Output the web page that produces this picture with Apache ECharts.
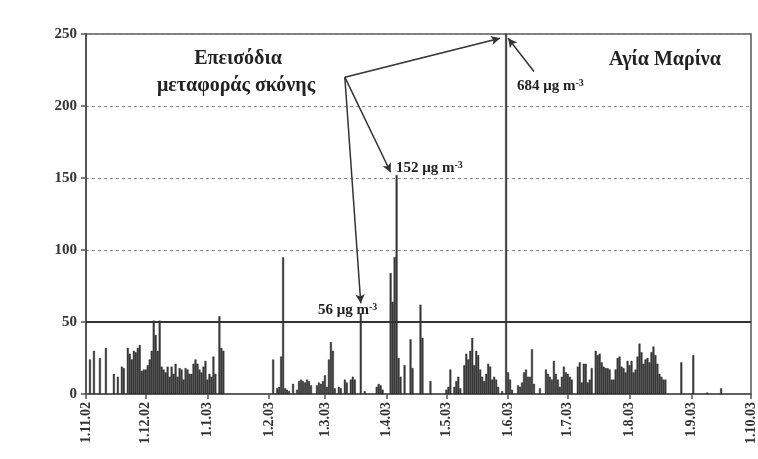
<!DOCTYPE html>
<html>
<head>
<meta charset="utf-8">
<script src="https://cdn.jsdelivr.net/npm/echarts@6/dist/echarts.min.js"></script>
<style>
  html, body { margin: 0; padding: 0; background: #fff; }
  #chart { width: 758px; height: 459px; }
</style>
</head>
<body>
<div id="chart"></div>
<script>
// Daily concentrations (μg m-3), one array per month; null = no measurement.
const nov02 = [null,null,24,null,30,null,null,25,null,null,32,null,null,null,14,null,12,null,19,18,null,32,28,24,30,29,32,34,16,17];
const dec02 = [17,20,24,30,51,41,30,51,19,17,15,19,12,19,14,21,12,18,17,10,18,17,14,14,21,24,21,17,15,19,23];
const jan03 = [10,14,12,26,14,null,54,32,30,null,null,null,null,null,null,null,null,null,null,null,null,null,null,null,null,null,null,null,null,null,null];
const feb03 = [null,null,24,null,4,5,26,95,4,3,2,null,7,null,3,9,10,9,8,10,9,6,null,null,6,8,7,9];
const mar03 = [13,5,24,36,30,4,null,5,4,null,10,8,null,10,12,10,null,null,56,null,2,null,null,null,null,null,5,7,6,3,null];
const apr03 = [null,null,84,64,95,152,25,12,null,20,null,null,38,18,null,null,null,62,39,null,null,null,9,null,null,null,null,null,null,null];
const may03 = [3,5,17,null,5,9,12,4,null,20,28,24,30,39,20,30,27,17,12,9,14,21,19,10,12,10,5,null,2,null,684];
const jun03 = [15,10,3,null,null,6,5,8,15,17,12,12,31,7,null,null,4,null,null,17,14,12,10,23,14,10,5,12,19,15];
const jul03 = [14,12,10,null,null,19,22,8,21,21,8,10,18,null,30,27,28,22,19,18,18,17,10,10,17,25,26,19,18,15,23];
const aug03 = [20,23,15,17,26,35,29,21,24,25,22,29,33,27,21,14,12,10,10,null,null,null,null,null,null,null,22,null,null,null,null];
const sep03 = [null,27,null,null,null,null,null,null,1,null,null,null,null,null,null,4,null,null,null,null,null,null,null,null,null,null,null,null,null,null];

const monthKeys = [
  ['11', '02', nov02], ['12', '02', dec02], ['1', '03', jan03], ['2', '03', feb03],
  ['3', '03', mar03], ['4', '03', apr03], ['5', '03', may03], ['6', '03', jun03],
  ['7', '03', jul03], ['8', '03', aug03], ['9', '03', sep03]
];

const tickLabels = ['1.11.02','1.12.02','1.1.03','1.2.03','1.3.03','1.4.03','1.5.03','1.6.03','1.7.03','1.8.03','1.9.03','1.10.03'];

// Daily limit value
const limitValue = 50;

// Category axis: one entry per day, labelled d.m.yy
const days = [];
const values = [];
monthKeys.forEach(([m, y, arr]) => {
  arr.forEach((v, i) => {
    days.push((i + 1) + '.' + m + '.' + y);
    values.push(v);
  });
});
days.push('1.10.03');
values.push(null);

const serif = 'Liberation Serif';
const isTick = (idx, val) => tickLabels.indexOf(val) >= 0;

const unitLabel = (num) => ({
  text: '{a|' + num + ' μg m}{b|-3}', align: 'left', verticalAlign: 'middle',
  rich: {
    a: { font: 'bold 15px "Liberation Serif"', fill: '#222' },
    b: { font: 'bold 10px "Liberation Serif"', fill: '#222', verticalAlign: 'top' }
  }
});

const chart = echarts.init(document.getElementById('chart'), null, { renderer: 'canvas' });

chart.setOption({
  animation: false,
  backgroundColor: '#fff',
  grid: {
    left: 86, right: 7, top: 34, bottom: 65,
    show: true, borderColor: '#555', borderWidth: 1.5, backgroundColor: 'transparent'
  },
  xAxis: {
    type: 'category',
    data: days,
    boundaryGap: false,
    axisLine: { lineStyle: { color: '#555', width: 1.5 } },
    axisTick: { show: true, interval: isTick, length: 5, lineStyle: { color: '#555', width: 1.5 } },
    axisLabel: {
      interval: isTick, rotate: 90, margin: 8,
      fontFamily: serif, fontWeight: 'bold', fontSize: 14, color: '#333'
    },
    splitLine: { show: false }
  },
  yAxis: {
    type: 'value',
    min: 0, max: 250, interval: 50,
    axisLine: { show: true, lineStyle: { color: '#555', width: 2 } },
    axisTick: { show: true, length: 5, lineStyle: { color: '#555', width: 1.5 } },
    axisLabel: { fontFamily: serif, fontWeight: 'bold', fontSize: 15, color: '#333', margin: 9 },
    splitLine: { show: true, lineStyle: { color: '#888', type: [3, 3], width: 1 } }
  },
  series: [
    {
      type: 'bar',
      data: values,
      barWidth: 2,
      clip: true,
      itemStyle: { color: '#3c3c3c', borderColor: '#222', borderWidth: 0.4 },
      markLine: {
        silent: true,
        symbol: ['none', 'arrow'],
        symbolSize: [7, 9],
        label: { show: false },
        lineStyle: { color: '#333', width: 1.5, type: 'solid' },
        data: [
          [{ coord: ['11.3.03', 220] }, { coord: ['28.5.03', 247] }],
          [{ coord: ['11.3.03', 220] }, { coord: ['3.4.03', 154] }],
          [{ coord: ['11.3.03', 220] }, { coord: ['19.3.03', 63] }],
          [{ coord: ['14.6.03', 224] }, { coord: ['1.6.03', 247] }]
        ]
      }
    },
    {
      // limit line at 50 μg m-3
      type: 'line',
      data: [],
      silent: true,
      markLine: {
        silent: true,
        symbol: 'none',
        label: { show: false },
        lineStyle: { color: '#333', width: 1.8, type: 'solid' },
        data: [{ yAxis: limitValue }]
      }
    }
  ],
  graphic: [
    { type: 'text', x: 238, y: 59, style: { text: 'Επεισόδια', font: 'bold 20px "Liberation Serif"', fill: '#222', align: 'center', verticalAlign: 'middle' } },
    { type: 'text', x: 236, y: 86, style: { text: 'μεταφοράς σκόνης', font: 'bold 20px "Liberation Serif"', fill: '#222', align: 'center', verticalAlign: 'middle' } },
    { type: 'text', x: 665, y: 60, style: { text: 'Αγία Μαρίνα', font: 'bold 20px "Liberation Serif"', fill: '#222', align: 'center', verticalAlign: 'middle' } },
    { type: 'text', x: 517, y: 86, style: unitLabel(684) },
    { type: 'text', x: 396, y: 168, style: unitLabel(152) },
    { type: 'text', x: 318, y: 310, style: unitLabel(56) }
  ]
});
</script>
</body>
</html>
